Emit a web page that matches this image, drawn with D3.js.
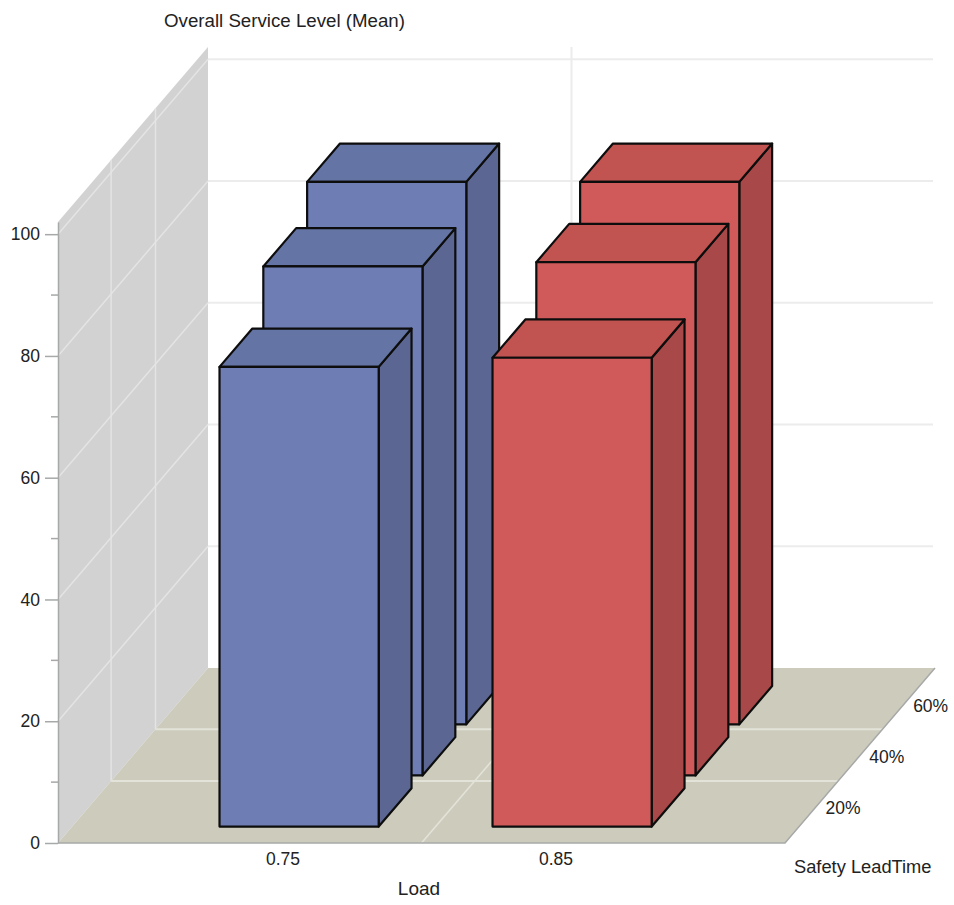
<!DOCTYPE html>
<html>
<head>
<meta charset="utf-8">
<script src="https://cdn.jsdelivr.net/npm/d3@7"></script>
<style>
  html, body { margin: 0; padding: 0; background: #fff; }
  text { font-family: "Liberation Sans", Arial, sans-serif; font-size: 17.5px; fill: #222; }
</style>
</head>
<body>
<div id="chart"></div>
<script>
const loads = ["0.75", "0.85"];
const leadTimes = ["20%", "40%", "60%"];
const blueLevels = [75.5, 83.6, 89.1];
const redLevels = [77.0, 84.3, 89.1];
const yTicks = [0, 20, 40, 60, 80, 100];
const yMinorTicks = [10, 30, 50, 70, 90];
const wallTicks = [20, 40, 60, 80, 100];

const width = 954;
const height = 905;

// floor corners, the rest of the box follows from these
const left = 58, right = 785, base = 843;
const depthX = 150, depthY = 175;

const svg = d3.select("#chart").append("svg")
  .attr("width", width)
  .attr("height", height)
  .style("display", "block");

const xScale = d3.scaleBand()
  .domain(loads)
  .range([left, right])
  .paddingInner(0.417)
  .paddingOuter(0.54);

const yScale = d3.scaleLinear()
  .domain([0, 102])
  .range([base, 222]);

// depth runs 0 (front) to 1 (back)
const depthScale = d3.scaleBand()
  .domain(leadTimes)
  .range([0.094, 0.897])
  .paddingInner(0.25);

const project = (px, v, d) => [px + d * depthX, yScale(v) - d * depthY];
const line = d3.line();

const yMax = yScale.domain()[1];

// side wall
svg.append("path")
  .attr("d", line([project(left, 0, 0), project(left, yMax, 0), project(left, yMax, 1), project(left, 0, 1)]) + "Z")
  .attr("fill", "#d2d2d2");

// floor
svg.append("path")
  .attr("d", line([project(left, 0, 0), project(right, 0, 0), project(right, 0, 1), project(left, 0, 1)]) + "Z")
  .attr("fill", "#cdccbc");

const grid = svg.append("g").attr("fill", "none");

// back wall lines, they stop a little short of the floor corner
grid.selectAll(".back-line")
  .data(wallTicks)
  .enter().append("path")
  .attr("class", "back-line")
  .attr("d", d => line([project(left, d, 1), project(right - 2, d, 1)]))
  .attr("stroke", "#ececec")
  .attr("stroke-width", 2);

// wall diagonals
grid.selectAll(".wall-line")
  .data(wallTicks)
  .enter().append("path")
  .attr("class", "wall-line")
  .attr("d", d => line([project(left, d, 0), project(left, d, 1)]))
  .attr("stroke", "#e4e4e4")
  .attr("stroke-width", 1.5);

// lines between the lead time rows, on wall and floor
const rowEdges = [0.354, 0.65];
grid.selectAll(".row-wall")
  .data(rowEdges)
  .enter().append("path")
  .attr("class", "row-wall")
  .attr("d", d => line([project(left, 0, d), project(left, yMax, d)]))
  .attr("stroke", "#e4e4e4")
  .attr("stroke-width", 1.5);

grid.selectAll(".row-floor")
  .data(rowEdges)
  .enter().append("path")
  .attr("class", "row-floor")
  .attr("d", d => line([project(left, 0, d), project(right, 0, d)]))
  .attr("stroke", "#e3e3da")
  .attr("stroke-width", 2);

// line between the two loads
const loadEdge = (left + right) / 2;
grid.append("path")
  .attr("d", line([project(loadEdge, 0, 0), project(loadEdge, 0, 1)]))
  .attr("stroke", "#e3e3da")
  .attr("stroke-width", 1.5);
grid.append("path")
  .attr("d", line([project(loadEdge, 0, 1), project(loadEdge, yMax, 1)]))
  .attr("stroke", "#ececec")
  .attr("stroke-width", 2);

// floor outline in axis grey
grid.append("path")
  .attr("d", line([project(left, 0, 0), project(right, 0, 0), project(right, 0, 1)]))
  .attr("stroke", "#a6a9a8")
  .attr("stroke-width", 1.5);

const series = [
  { load: loads[0], levels: blueLevels, front: "#6e7db3", top: "#6474a4", side: "#5b6792" },
  { load: loads[1], levels: redLevels, front: "#d05a5a", top: "#c15350", side: "#a84848" }
];

// back rows first so the nearer bars cover them
const bars = [];
leadTimes.slice().reverse().forEach(t => {
  series.forEach(s => {
    bars.push({ load: s.load, time: t, value: s.levels[leadTimes.indexOf(t)], front: s.front, top: s.top, side: s.side });
  });
});

const barGroups = svg.append("g")
  .selectAll(".bar")
  .data(bars)
  .enter().append("g")
  .attr("class", "bar")
  .attr("stroke", "#0d0d0d")
  .attr("stroke-width", 2.2)
  .attr("stroke-linejoin", "round");

const x0 = d => xScale(d.load);
const x1 = d => xScale(d.load) + xScale.bandwidth();
const d0 = d => depthScale(d.time);
const d1 = d => depthScale(d.time) + depthScale.bandwidth();

barGroups.append("path")
  .attr("fill", d => d.side)
  .attr("d", d => line([project(x1(d), 0, d0(d)), project(x1(d), d.value, d0(d)), project(x1(d), d.value, d1(d)), project(x1(d), 0, d1(d))]) + "Z");

barGroups.append("path")
  .attr("fill", d => d.top)
  .attr("d", d => line([project(x0(d), d.value, d0(d)), project(x1(d), d.value, d0(d)), project(x1(d), d.value, d1(d)), project(x0(d), d.value, d1(d))]) + "Z");

barGroups.append("path")
  .attr("fill", d => d.front)
  .attr("d", d => line([project(x0(d), 0, d0(d)), project(x1(d), 0, d0(d)), project(x1(d), d.value, d0(d)), project(x0(d), d.value, d0(d))]) + "Z");

// y axis
const yAxis = d3.axisLeft(yScale)
  .tickValues(yTicks)
  .tickSizeInner(13)
  .tickSizeOuter(0)
  .tickPadding(5);

const yAxisGroup = svg.append("g")
  .attr("transform", `translate(${left}, 0)`)
  .call(yAxis);

yAxisGroup.select(".domain").attr("stroke", "#a6a9a8").attr("stroke-width", 1.5);
yAxisGroup.selectAll(".tick line").attr("stroke", "#a6a9a8").attr("stroke-width", 1.5);
yAxisGroup.selectAll("text").style("font-size", "17.5px").style("font-family", "Liberation Sans");

svg.append("g")
  .attr("transform", `translate(${left}, 0)`)
  .selectAll(".minor")
  .data(yMinorTicks)
  .enter().append("line")
  .attr("class", "minor")
  .attr("x1", -7)
  .attr("x2", 0)
  .attr("y1", d => yScale(d))
  .attr("y2", d => yScale(d))
  .attr("stroke", "#a6a9a8")
  .attr("stroke-width", 1.5);

// x tick labels
svg.append("g")
  .selectAll(".x-label")
  .data(loads)
  .enter().append("text")
  .attr("class", "x-label")
  .attr("x", d => xScale(d) + xScale.bandwidth() / 2 - 2)
  .attr("y", base + 22)
  .attr("text-anchor", "middle")
  .text(d => d);

// depth tick labels sit just off the right edge of the floor
svg.append("g")
  .selectAll(".z-label")
  .data(leadTimes)
  .enter().append("text")
  .attr("class", "z-label")
  .attr("x", d => project(right, 0, depthScale(d) + depthScale.bandwidth() / 2)[0] + 10)
  .attr("y", d => project(right, 0, depthScale(d) + depthScale.bandwidth() / 2)[1] + 7)
  .text(d => d);

svg.append("text")
  .attr("x", 164)
  .attr("y", 27)
  .style("font-size", "18.7px")
  .text("Overall Service Level (Mean)");

svg.append("text")
  .attr("x", 419)
  .attr("y", 895)
  .attr("text-anchor", "middle")
  .style("font-size", "19px")
  .text("Load");

svg.append("text")
  .attr("x", 794)
  .attr("y", 873)
  .style("font-size", "18.3px")
  .text("Safety LeadTime");
</script>
</body>
</html>
